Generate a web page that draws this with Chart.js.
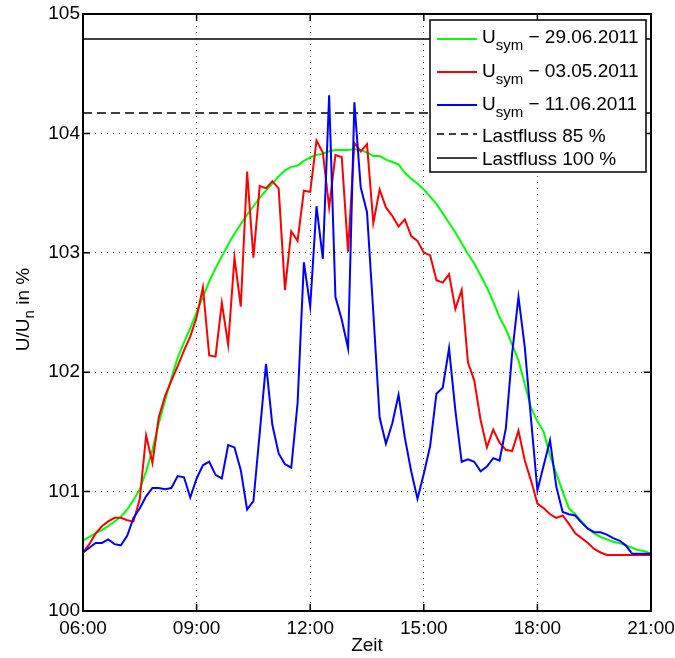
<!DOCTYPE html>
<html>
<head>
<meta charset="utf-8">
<script src="https://cdn.jsdelivr.net/npm/chart.js@4.4.0/dist/chart.umd.min.js"></script>
<style>
html,body{margin:0;padding:0;background:#fff;}
#wrap{width:675px;height:658px;position:relative;}
</style>
</head>
<body>
<div id="wrap"><canvas id="c" width="675" height="658"></canvas></div>
<script>
// ---- data ----
const startHour = 6;          // 06:00
const stepMinutes = 10;       // one sample every 10 minutes
const xTickHours = [6, 9, 12, 15, 18, 21];
const yTicks = [100, 101, 102, 103, 104, 105];

const usym290611 = [100.59,100.62,100.65,100.68,100.71,100.75,100.79,100.85,100.93,101.02,
  101.17,101.35,101.57,101.76,101.95,102.12,102.25,102.37,102.50,102.63,
  102.76,102.87,102.97,103.07,103.16,103.24,103.32,103.39,103.46,103.52,
  103.58,103.64,103.69,103.72,103.73,103.77,103.80,103.82,103.83,103.85,
  103.86,103.86,103.86,103.87,103.86,103.84,103.81,103.81,103.78,103.76,
  103.74,103.67,103.62,103.58,103.53,103.47,103.41,103.33,103.25,103.17,
  103.08,102.99,102.91,102.81,102.71,102.59,102.46,102.36,102.23,102.10,
  101.90,101.70,101.59,101.50,101.30,101.15,101.00,100.86,100.81,100.75,
  100.69,100.65,100.62,100.60,100.58,100.57,100.55,100.53,100.51,100.50,100.48];

const usym030511 = [100.49,100.56,100.65,100.71,100.75,100.78,100.78,100.76,100.75,100.94,
  101.47,101.24,101.62,101.80,101.93,102.05,102.18,102.30,102.46,102.71,
  102.14,102.13,102.58,102.23,102.96,102.55,103.68,102.96,103.56,103.54,
  103.60,103.54,102.69,103.18,103.10,103.52,103.51,103.94,103.84,103.38,
  103.82,103.80,103.01,103.92,103.85,103.91,103.25,103.53,103.38,103.31,
  103.22,103.28,103.14,103.10,103.00,102.98,102.77,102.75,102.82,102.53,
  102.69,102.08,101.93,101.60,101.37,101.52,101.41,101.35,101.34,101.51,
  101.26,101.09,100.90,100.86,100.81,100.78,100.80,100.73,100.65,100.61,
  100.57,100.52,100.49,100.47,100.47,100.47,100.47,100.47,100.47,100.47,100.47];

const usym110611 = [100.49,100.53,100.57,100.57,100.60,100.56,100.55,100.63,100.78,100.86,
  100.96,101.03,101.03,101.02,101.03,101.13,101.12,100.95,101.11,101.22,
  101.25,101.14,101.11,101.39,101.37,101.18,100.85,100.92,101.49,102.07,
  101.56,101.32,101.23,101.20,101.74,102.92,102.55,103.39,102.95,104.32,
  102.63,102.44,102.20,104.26,103.55,103.34,102.50,101.62,101.40,101.57,
  101.81,101.45,101.17,100.94,101.15,101.38,101.82,101.87,102.20,101.68,
  101.25,101.27,101.25,101.17,101.21,101.28,101.26,101.53,102.16,102.63,
  102.21,101.60,101.01,101.22,101.43,101.04,100.83,100.81,100.80,100.74,
  100.69,100.66,100.66,100.64,100.61,100.59,100.55,100.48,100.48,100.48,100.48];

const lastfluss85 = 104.17;
const lastfluss100 = 104.79;

const legendDates = ['29.06.2011', '03.05.2011', '11.06.2011'];
const legendLastfluss = ['Lastfluss 85 %', 'Lastfluss 100 %'];
const seriesColors = ['#00ff00', '#ff0000', '#0000ff'];

// ---- build points ----
function toPoints(arr) {
  return arr.map((v, i) => ({x: startHour + i * stepMinutes / 60, y: v}));
}
const xMin = xTickHours[0], xMax = xTickHours[xTickHours.length - 1];
function hLine(v) { return [{x: xMin, y: v}, {x: xMax, y: v}]; }

const FONT = '"Liberation Sans", Arial, Helvetica, sans-serif';
Chart.defaults.font.family = FONT;
Chart.defaults.color = '#000';

const matlabAxes = {
  id: 'matlabAxes',
  afterDraw(chart) {
    const {ctx, chartArea: a, scales: {x, y}} = chart;
    ctx.save();
    // inward ticks on all four sides
    const tl = 7;
    ctx.strokeStyle = '#000';
    ctx.lineWidth = 1.5;
    ctx.beginPath();
    x.ticks.forEach(t => {
      const px = x.getPixelForValue(t.value);
      ctx.moveTo(px, a.bottom); ctx.lineTo(px, a.bottom - tl);
      ctx.moveTo(px, a.top); ctx.lineTo(px, a.top + tl);
    });
    y.ticks.forEach(t => {
      const py = y.getPixelForValue(t.value);
      ctx.moveTo(a.left, py); ctx.lineTo(a.left + tl, py);
      ctx.moveTo(a.right, py); ctx.lineTo(a.right - tl, py);
    });
    ctx.stroke();
    // box
    ctx.lineWidth = 2;
    ctx.strokeRect(a.left, a.top, a.right - a.left, a.bottom - a.top);

    // y axis title  U/U_n in %
    ctx.save();
    const big = '19px ' + FONT, small = '15px ' + FONT;
    ctx.font = big; const w1 = ctx.measureText('U/U').width;
    const w3 = ctx.measureText(' in %').width;
    ctx.font = small; const w2 = ctx.measureText('n').width;
    const total = w1 + w2 + w3;
    const cy = (a.top + a.bottom) / 2 - 3;
    ctx.translate(29, cy);
    ctx.rotate(-Math.PI / 2);
    ctx.fillStyle = '#000';
    ctx.textBaseline = 'alphabetic';
    ctx.textAlign = 'left';
    let sx = -total / 2;
    ctx.font = big; ctx.fillText('U/U', sx, 0); sx += w1;
    ctx.font = small; ctx.fillText('n', sx, 5); sx += w2;
    ctx.font = big; ctx.fillText(' in %', sx, 0);
    ctx.restore();

    // legend
    const lx = 430, ly = 20, lw = 216, lh = 152;
    ctx.fillStyle = '#fff';
    ctx.fillRect(lx, ly, lw, lh);
    ctx.strokeStyle = '#000';
    ctx.lineWidth = 1.5;
    ctx.strokeRect(lx, ly, lw, lh);
    const lineYs = [39, 72, 105, 134, 158];
    const baseYs = [43, 76.5, 110, 142, 165];
    const sampleX0 = 437, sampleX1 = 477, textX = 482;
    ctx.textAlign = 'left';
    ctx.textBaseline = 'alphabetic';
    for (let i = 0; i < 3; i++) {
      ctx.strokeStyle = seriesColors[i];
      ctx.lineWidth = 2;
      ctx.setLineDash([]);
      ctx.beginPath(); ctx.moveTo(sampleX0, lineYs[i]); ctx.lineTo(sampleX1, lineYs[i]); ctx.stroke();
      ctx.fillStyle = '#000';
      let tx = textX;
      ctx.font = big; ctx.fillText('U', tx, baseYs[i]); tx += ctx.measureText('U').width;
      ctx.font = small; ctx.fillText('sym', tx, baseYs[i] + 7); tx += ctx.measureText('sym').width;
      ctx.font = big; ctx.fillText(' \u2212 ' + legendDates[i], tx, baseYs[i]);
    }
    for (let j = 0; j < 2; j++) {
      const i = j + 3;
      ctx.strokeStyle = '#000';
      ctx.lineWidth = 1.5;
      ctx.setLineDash(j === 0 ? [7, 5] : []);
      ctx.beginPath(); ctx.moveTo(sampleX0, lineYs[i]); ctx.lineTo(sampleX1, lineYs[i]); ctx.stroke();
      ctx.setLineDash([]);
      ctx.fillStyle = '#000';
      ctx.font = big; ctx.fillText(legendLastfluss[j], textX, baseYs[i]);
    }
    ctx.restore();
  }
};

const gridOpts = {color: 'rgba(0,0,0,0.75)', lineWidth: 1, drawTicks: false};

new Chart(document.getElementById('c'), {
  type: 'line',
  data: {
    datasets: [
      {label: 'Usym - ' + legendDates[0], data: toPoints(usym290611), borderColor: seriesColors[0], borderWidth: 2, order: 3},
      {label: 'Usym - ' + legendDates[1], data: toPoints(usym030511), borderColor: seriesColors[1], borderWidth: 2, order: 2},
      {label: 'Usym - ' + legendDates[2], data: toPoints(usym110611), borderColor: seriesColors[2], borderWidth: 2, order: 1},
      {label: legendLastfluss[0], data: hLine(lastfluss85), borderColor: '#000', borderWidth: 1.5, borderDash: [9, 5], order: 4},
      {label: legendLastfluss[1], data: hLine(lastfluss100), borderColor: '#000', borderWidth: 1.5, order: 5}
    ]
  },
  options: {
    responsive: false,
    animation: false,
    devicePixelRatio: 1,
    elements: {point: {radius: 0}, line: {tension: 0, fill: false}},
    layout: {padding: {top: 14, right: 24, left: 0, bottom: 0}},
    plugins: {legend: {display: false}, tooltip: {enabled: false}},
    scales: {
      x: {
        type: 'linear',
        min: xMin, max: xMax,
        afterFit: s => { s.height = 47; s.paddingLeft = 0; s.paddingRight = 0; },
        afterBuildTicks: s => { s.ticks = xTickHours.map(v => ({value: v})); },
        ticks: {
          font: {size: 19}, color: '#000', padding: 6, maxRotation: 0, autoSkip: false,
          callback: v => (v < 10 ? '0' : '') + v + ':00'
        },
        grid: gridOpts,
        border: {display: false, dash: [1, 5]},
        title: {display: true, text: 'Zeit', font: {size: 19}, color: '#000', padding: {top: 0, bottom: 1}}
      },
      y: {
        type: 'linear',
        min: 100, max: 105,
        afterFit: s => { s.width = 83; s.paddingTop = 0; s.paddingBottom = 0; },
        afterBuildTicks: s => { s.ticks = yTicks.map(v => ({value: v})); },
        ticks: {font: {size: 19}, color: '#000', padding: 3},
        grid: gridOpts,
        border: {display: false, dash: [1, 5]}
      }
    }
  },
  plugins: [matlabAxes]
});
</script>
</body>
</html>
